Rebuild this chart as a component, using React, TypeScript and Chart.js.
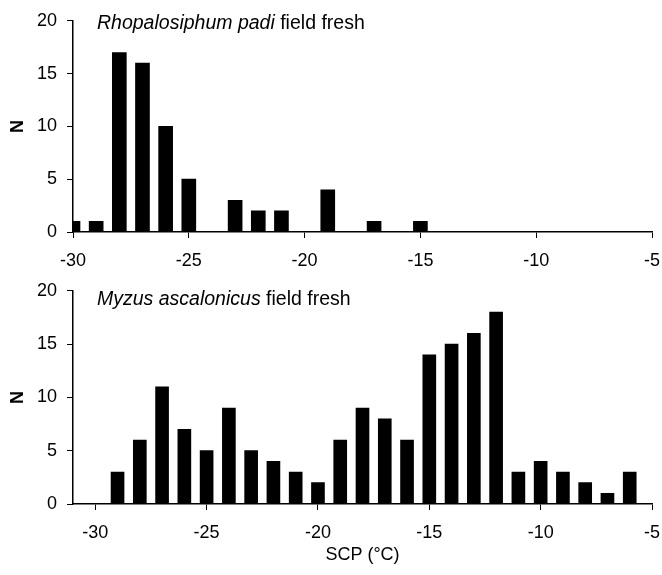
import React, { useEffect, useRef } from 'react';
import { Chart, registerables } from 'chart.js';
Chart.register(...registerables);

const FONT = '"Liberation Sans", Arial, Helvetica, sans-serif';

const topBins = [-30, -29, -28, -27, -26, -25, -24, -23, -22, -21, -20, -19, -18, -17, -16, -15];
const topCounts = [1, 1, 17, 16, 10, 5, 0, 3, 2, 2, 0, 4, 0, 1, 0, 1];

const bottomBins = [-29, -28, -27, -26, -25, -24, -23, -22, -21, -20, -19, -18, -17, -16, -15, -14, -13, -12, -11, -10, -9, -8, -7, -6];
const bottomCounts = [3, 6, 11, 7, 5, 9, 5, 4, 3, 2, 6, 9, 8, 6, 14, 15, 16, 18, 3, 4, 3, 2, 1, 3];

const xTicks = [-30, -25, -20, -15, -10, -5];
const yTicks = [0, 5, 10, 15, 20];

const topSpecies = 'Rhopalosiphum padi';
const bottomSpecies = 'Myzus ascalonicus';
const suffix = ' field fresh';
const xTitle = 'SCP (°C)';
const yTitle = 'N';

type PanelProps = {
  bins: number[];
  counts: number[];
  xMin: number;
  species: string;
  width: number;
  height: number;
  top: number;
  axisHeight: number;
  barThickness: number;
  titleBaseline: number;
  showXTitle: boolean;
};

function Panel(p: PanelProps) {
  const ref = useRef<HTMLCanvasElement | null>(null);
  useEffect(() => {
    if (!ref.current) return;
    const titlePlugin = {
      id: 'panelTitle',
      afterDraw(chart: any) {
        const ctx = chart.ctx;
        ctx.save();
        ctx.fillStyle = '#000';
        ctx.textBaseline = 'alphabetic';
        ctx.textAlign = 'left';
        ctx.font = `italic 19.5px ${FONT}`;
        const x0 = 97;
        ctx.fillText(p.species, x0, p.titleBaseline);
        const w = ctx.measureText(p.species).width;
        ctx.font = `19.5px ${FONT}`;
        ctx.fillText(suffix, x0 + w, p.titleBaseline);
        ctx.restore();
      },
    };
    const chart = new Chart(ref.current, {
      type: 'bar',
      data: {
        datasets: [
          {
            data: p.bins.map((x, i) => ({ x, y: p.counts[i] })),
            backgroundColor: '#000',
            borderWidth: 0,
            barThickness: p.barThickness,
          } as any,
        ],
      },
      options: {
        responsive: false,
        animation: false,
        devicePixelRatio: 1,
        layout: { padding: { left: 0, right: 0, top: 20, bottom: 0 } },
        plugins: {
          legend: { display: false },
          tooltip: { enabled: false },
        },
        scales: {
          x: {
            type: 'linear',
            offset: false,
            min: p.xMin,
            max: -5,
            afterBuildTicks: (s: any) => {
              s.ticks = xTicks.map((v) => ({ value: v }));
            },
            afterFit: (s: any) => {
              s.height = p.axisHeight;
              s.paddingLeft = 0;
              s.paddingRight = 10;
            },
            grid: {
              display: true,
              offset: false,
              drawOnChartArea: false,
              drawTicks: true,
              tickLength: 6,
              color: '#000',
              lineWidth: 1,
            },
            border: { display: true, color: '#000', width: 1.5 },
            ticks: {
              color: '#000',
              font: { family: FONT, size: 18 },
              padding: 12,
              maxRotation: 0,
              autoSkip: false,
            },
            title: {
              display: p.showXTitle,
              text: xTitle,
              color: '#000',
              font: { family: FONT, size: 18 },
              padding: { top: 0, bottom: 9 },
            },
          },
          y: {
            type: 'linear',
            min: 0,
            max: 20,
            afterBuildTicks: (s: any) => {
              s.ticks = yTicks.map((v) => ({ value: v }));
            },
            afterFit: (s: any) => {
              s.width = 73;
            },
            grid: {
              display: true,
              drawOnChartArea: false,
              drawTicks: true,
              tickLength: 6,
              color: '#000',
              lineWidth: 1,
            },
            border: { display: true, color: '#000', width: 1.5 },
            ticks: {
              color: '#000',
              font: { family: FONT, size: 18 },
              padding: 10,
            },
            title: {
              display: true,
              text: yTitle,
              color: '#000',
              font: { family: FONT, size: 18, weight: 'bold' },
              padding: { top: 7, bottom: 0 },
            },
          },
        },
      } as any,
      plugins: [titlePlugin],
    });
    return () => chart.destroy();
  }, []);
  return (
    <div style={{ position: 'absolute', left: 0, top: p.top, width: p.width, height: p.height }}>
      <canvas ref={ref} width={p.width} height={p.height} style={{ display: 'block', width: p.width, height: p.height }} />
    </div>
  );
}

export default function App() {
  return (
    <div style={{ position: 'absolute', left: 0, top: 0, width: 662, height: 575, background: '#fff' }}>
      <Panel
        bins={topBins}
        counts={topCounts}
        xMin={-30}
        species={topSpecies}
        width={662}
        height={270}
        top={0}
        axisHeight={38}
        barThickness={14}
        titleBaseline={29}
        showXTitle={false}
      />
      <Panel
        bins={bottomBins}
        counts={bottomCounts}
        xMin={-31}
        species={bottomSpecies}
        width={662}
        height={305}
        top={270}
        axisHeight={71}
        barThickness={13}
        titleBaseline={35}
        showXTitle={true}
      />
    </div>
  );
}
